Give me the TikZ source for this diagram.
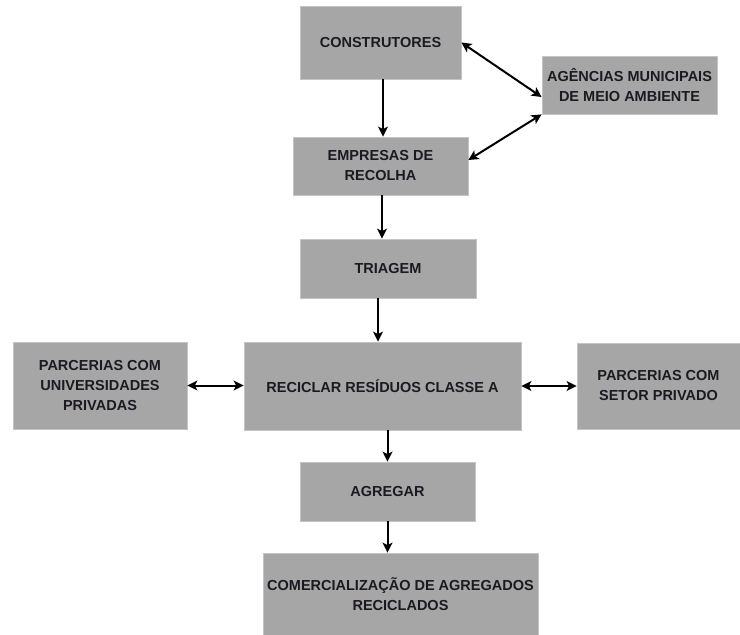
\documentclass[tikz,border=0pt]{standalone}
\usepackage{fontspec}
\setmainfont{Liberation Sans}
\usetikzlibrary{arrows.meta}
\definecolor{caixacinza}{RGB}{166,166,166}
\definecolor{bordacinza}{RGB}{196,196,196}
\definecolor{textoescuro}{RGB}{28,26,32}
\begin{document}
\begin{tikzpicture}[x=1pt, y=-1pt,
	seta/.style={->, >={Stealth[length=10pt, width=10pt, inset=2.5pt]}, line width=2pt, black},
	setadupla/.style={seta, <->},
	caixa/.style={rectangle, fill=caixacinza, draw=bordacinza, line width=0.8pt, inner sep=0pt, align=center, text=textoescuro, font=\fontsize{14.5}{20}\selectfont\bfseries}]
	\useasboundingbox (0,0) rectangle (740,635);
	\node [caixa, minimum width=161pt, minimum height=73pt] (construtores) at (380.5,42.5) {CONSTRUTORES};
	\node [caixa, minimum width=175pt, minimum height=58pt] (agencias) at (629.5,85) {AGÊNCIAS MUNICIPAIS\\DE MEIO AMBIENTE};
	\node [caixa, minimum width=175pt, minimum height=58pt] (empresas) at (380.5,166) {EMPRESAS DE\\RECOLHA};
	\node [caixa, minimum width=176pt, minimum height=59pt] (triagem) at (388,268.5) {TRIAGEM};
	\node [caixa, minimum width=277pt, minimum height=88pt] (reciclar) at (382.5,386) {RECICLAR RESÍDUOS CLASSE A};
	\node [caixa, minimum width=174pt, minimum height=87pt] (universidades) at (100,385.5) {PARCERIAS COM\\UNIVERSIDADES\\PRIVADAS};
	\node [caixa, minimum width=163pt, minimum height=86pt] (setor) at (658.5,386) {PARCERIAS COM\\SETOR PRIVADO};
	\node [caixa, minimum width=175pt, minimum height=59pt] (agregar) at (387.5,491.5) {AGREGAR};
	\node [caixa, minimum width=275pt, minimum height=82pt] (comercializacao) at (400.5,594) {COMERCIALIZAÇÃO DE AGREGADOS\\RECICLADOS};
	\draw [seta] ([xshift=2.5pt]construtores.south) -- ([xshift=2.5pt]construtores.south |- empresas.north);
	\draw [setadupla] (construtores.east) -- ([yshift=-12pt]agencias.west);
	\draw [setadupla] ([yshift=6pt]empresas.east) -- (agencias.south west);
	\draw [seta] ([xshift=1.5pt]empresas.south) -- ([xshift=1.5pt]empresas.south |- triagem.north);
	\draw [seta] ([xshift=-10pt]triagem.south) -- ([xshift=-10pt]triagem.south |- reciclar.north);
	\draw [setadupla] (universidades.east) -- (universidades.east -| reciclar.west);
	\draw [setadupla] (reciclar.east) -- (reciclar.east -| setor.west);
	\draw [seta] (agregar.north |- reciclar.south) -- (agregar.north);
	\draw [seta] (agregar.south) -- (agregar.south |- comercializacao.north);
\end{tikzpicture}
\end{document}
